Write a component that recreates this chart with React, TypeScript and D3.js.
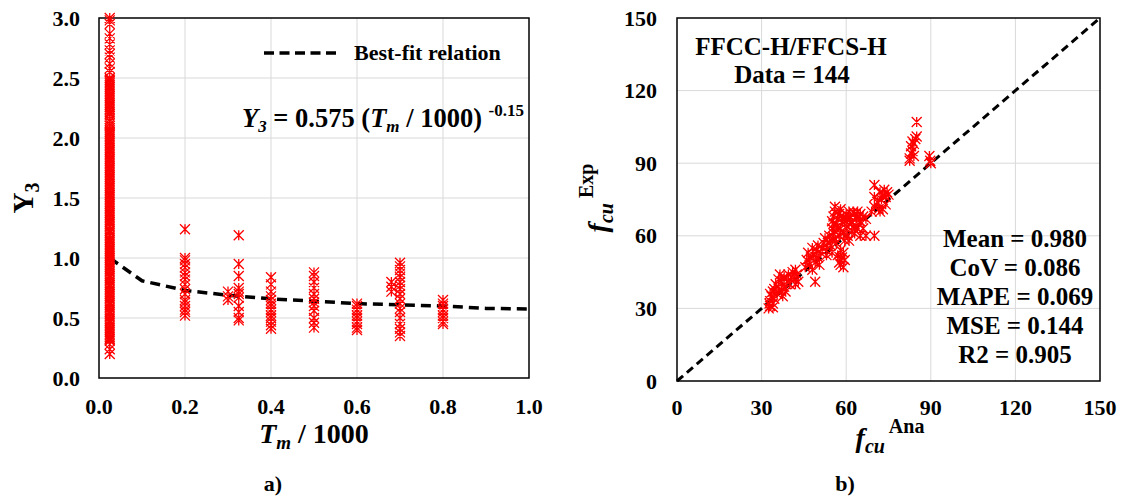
import React from 'react';
import * as d3 from 'd3';

// ---- panel a) Y3 vs Tm/1000 ----
const tmTicks = [0, 0.2, 0.4, 0.6, 0.8, 1.0];
const y3Ticks = [0, 0.5, 1.0, 1.5, 2.0, 2.5, 3.0];

// each group: Tm/1000 position and the Y3 values
const tmGroups = [0.025, 0.025, 0.2, 0.3, 0.325, 0.4, 0.5, 0.6, 0.68, 0.7, 0.8];
const y3Group0 = [3.0, 2.98, 2.95, 2.87, 2.83, 2.78, 2.73, 2.7, 2.67, 2.62, 2.58, 2.55, 2.5, 2.47, 2.44, 2.41,
  2.38, 2.35, 2.32, 2.29, 2.26, 2.23, 2.2, 2.16, 2.12, 2.08, 2.05, 2.02, 1.99, 1.96, 1.93, 1.9, 1.87, 1.84,
  1.81, 1.78, 1.75, 1.72, 1.69, 1.66, 1.63, 1.6, 1.57, 1.54, 1.51, 1.48, 1.45, 1.42, 1.39, 1.36, 1.33, 1.3,
  1.27, 1.24, 1.21, 1.18, 1.15, 1.12, 1.09, 1.06, 1.03, 1.0, 0.97, 0.94, 0.91, 0.88, 0.85, 0.82, 0.79, 0.76,
  0.73, 0.7, 0.67, 0.64, 0.61, 0.58, 0.55, 0.52, 0.49, 0.46, 0.43, 0.4, 0.37, 0.34, 0.31, 0.28, 0.24, 0.2];
const y3Group0b = [2.485, 2.455, 2.425, 2.395, 2.365, 2.335, 2.305, 2.275, 2.245, 2.215, 2.18, 2.14, 2.1,
  2.065, 2.035, 2.005, 1.975, 1.945, 1.915, 1.885, 1.855, 1.825, 1.795, 1.765, 1.735, 1.705, 1.675, 1.645,
  1.615, 1.585, 1.555, 1.525, 1.495, 1.465, 1.435, 1.405, 1.375, 1.345, 1.315, 1.285, 1.255, 1.225, 1.195,
  1.165, 1.135, 1.105, 1.075, 1.045, 1.015, 0.985, 0.955, 0.925, 0.895, 0.865, 0.835, 0.805, 0.775, 0.745,
  0.715, 0.685, 0.655, 0.625, 0.595, 0.565, 0.535, 0.505, 0.475, 0.445, 0.415, 0.385, 0.355, 0.325];
const y3Group1 = [1.24, 1.0, 0.98, 0.95, 0.92, 0.88, 0.85, 0.82, 0.78, 0.74, 0.7, 0.65, 0.63, 0.6, 0.57, 0.55, 0.52];
const y3Group2 = [0.72, 0.68, 0.65];
const y3Group3 = [1.19, 0.95, 0.85, 0.75, 0.72, 0.7, 0.67, 0.6, 0.55, 0.5, 0.48];
const y3Group4 = [0.84, 0.78, 0.72, 0.68, 0.65, 0.62, 0.6, 0.57, 0.55, 0.52, 0.5, 0.47, 0.44, 0.41];
const y3Group5 = [0.88, 0.85, 0.8, 0.75, 0.7, 0.66, 0.63, 0.6, 0.56, 0.5, 0.46, 0.42];
const y3Group6 = [0.62, 0.6, 0.57, 0.55, 0.52, 0.5, 0.47, 0.45, 0.42, 0.4];
const y3Group7 = [0.8, 0.76, 0.72];
const y3Group8 = [0.96, 0.93, 0.9, 0.87, 0.84, 0.8, 0.77, 0.74, 0.7, 0.66, 0.62, 0.58, 0.55, 0.5, 0.45, 0.41, 0.38, 0.35];
const y3Group9 = [0.65, 0.62, 0.6, 0.57, 0.55, 0.52, 0.5, 0.47, 0.45];
const y3Groups = [y3Group0, y3Group0b, y3Group1, y3Group2, y3Group3, y3Group4, y3Group5, y3Group6, y3Group7, y3Group8, y3Group9];

// best-fit relation Y3 = 0.575 (Tm/1000)^-0.15
const fitTm = [0.025, 0.1, 0.2, 0.3, 0.4, 0.5, 0.6, 0.7, 0.8, 0.9, 1.0];
const fitY3 = [1.0, 0.81, 0.73, 0.69, 0.66, 0.64, 0.62, 0.61, 0.6, 0.58, 0.575];

// ---- panel b) fcu Exp vs fcu Ana ----
const fcuTicks = [0, 30, 60, 90, 120, 150];
const fcuAna = [
  32.5, 33, 33, 33.5, 34, 34, 34.5, 33, 32.8, 34,
  34.5, 35, 35.5, 36, 36, 37, 37, 37.5, 38, 38, 38.5, 36.5,
  39, 39.5, 40, 40.5, 41, 41.5, 42, 42, 42.5, 43,
  45.5, 46, 46.5, 47, 47.5, 48, 48, 48.5, 49, 49, 49.5, 50, 50, 50.5, 51,
  51.5, 52, 52.5, 53, 53.5, 54, 54.5, 55, 55.5, 56, 56.5, 55, 53,
  57, 57.5, 58, 58.5, 59, 59, 59.5, 58,
  55, 55.5, 56, 57, 57.5, 58, 58.5, 59, 60, 60.5, 61, 62, 62.5, 63, 64, 64.5, 65, 66, 67, 70, 61, 59.5,
  55, 55.5, 56, 56, 56.5, 57, 57.5, 58, 59, 59.5, 60, 60.5, 61, 61.5, 62, 62.5, 63, 63.5, 64, 64.5, 65, 65, 66, 67,
  69, 70, 70, 70, 71, 71.5, 72, 72, 72.5, 73, 73, 73.5, 74, 74, 74.5, 75,
  82.5, 82.5, 83, 83, 83.5, 83.5, 84, 84, 84.5, 85, 85,
  89.5, 90, 89.8];
const fcuExp = [
  30, 31, 33, 35, 30.5, 32, 34, 36, 32, 37,
  38, 40, 36, 39, 42, 37, 41, 35, 39, 43, 37, 44,
  41, 44, 40, 43, 45, 42, 46, 40, 44, 41,
  47, 50, 53, 48, 51, 46, 55, 52, 49, 41, 54, 51, 56, 48, 53,
  55, 57, 59, 54, 57, 60, 56, 58, 61, 59, 57, 53, 52,
  52, 49, 48, 51, 53, 47, 50, 54,
  63, 65, 62, 64, 60, 63, 66, 61, 63, 60, 65, 62, 64, 61, 63, 65, 60, 63, 60, 60, 58, 58,
  66, 68, 70, 72, 65, 67, 69, 71, 68, 66, 69, 67, 70, 68, 66, 70, 69, 67, 70, 68, 66, 69, 68, 67,
  70, 72, 76, 81, 74, 71, 70, 78, 75, 71, 77, 79, 73, 76, 78, 77,
  92, 91, 94, 97, 95, 99, 93, 98, 100, 101, 107,
  93, 90, 91];
const refLine = [0, 150];

const FONT = "'Liberation Serif', 'Times New Roman', serif";
const RED = '#ff0000';
const GRID = '#d9d9d9';

function star(cx: number, cy: number) {
  const h = 5;
  return `M${cx - h},${cy - h}L${cx + h},${cy + h}M${cx - h},${cy + h}L${cx + h},${cy - h}M${cx},${cy - h}L${cx},${cy + h}`;
}

export default function App() {
  // panel a scales
  const xA = d3.scaleLinear().domain([0, 1]).range([99, 529]);
  const yA = d3.scaleLinear().domain([0, 3]).range([378, 18]);
  // panel b scales
  const xB = d3.scaleLinear().domain([0, 150]).range([677, 1100]);
  const yB = d3.scaleLinear().domain([0, 150]).range([381, 18]);

  const ptsA: [number, number][] = [];
  tmGroups.forEach((tm, i) => y3Groups[i].forEach((v) => ptsA.push([tm, v])));

  const fitPath = d3.line<number>().x((d) => xA(d)).y((_, i) => yA(fitY3[i]))(fitTm) || '';
  const refPath = d3.line<number>().x((d) => xB(d)).y((d) => yB(d))(refLine) || '';

  const starsA = ptsA.map(([x, y]) => star(xA(x), yA(y))).join('');
  const starsB = fcuAna.map((a, i) => star(xB(a), yB(fcuExp[i]))).join('');

  return (
    <svg width={1121} height={498} style={{ position: 'absolute', left: 0, top: 0, background: '#fff' }}
      fontFamily={FONT} fontWeight="bold">
      <rect x={0} y={0} width={1121} height={498} fill="#fff" />

      {/* ---------- panel a ---------- */}
      {tmTicks.slice(1, -1).map((t) => (
        <line key={'gxa' + t} x1={xA(t)} x2={xA(t)} y1={yA(0)} y2={yA(3)} stroke={GRID} strokeWidth={1} />
      ))}
      {y3Ticks.slice(1, -1).map((t) => (
        <line key={'gya' + t} x1={xA(0)} x2={xA(1)} y1={yA(t)} y2={yA(t)} stroke={GRID} strokeWidth={1} />
      ))}
      <rect x={xA(0)} y={yA(3)} width={xA(1) - xA(0)} height={yA(0) - yA(3)} fill="none" stroke="#000" strokeWidth={1.5} />
      <path d={fitPath} fill="none" stroke="#000" strokeWidth={3.5} strokeDasharray="10,6" />
      <path d={starsA} fill="none" stroke={RED} strokeWidth={1.3} />

      {tmTicks.map((t) => (
        <text key={'txa' + t} x={xA(t)} y={414} textAnchor="middle" fontSize={22}>{t.toFixed(1)}</text>
      ))}
      {y3Ticks.map((t) => (
        <text key={'tya' + t} x={80} y={yA(t) + 7.5} textAnchor="end" fontSize={22}>{t.toFixed(1)}</text>
      ))}

      <line x1={264} x2={336} y1={53} y2={53} stroke="#000" strokeWidth={3.5} strokeDasharray="10,5.5" />
      <text x={354} y={60} fontSize={22}>Best-fit relation</text>

      <text x={242} y={127} fontSize={26.5}>
        <tspan fontStyle="italic">Y</tspan>
        <tspan fontStyle="italic" fontSize={17} dy={5}>3</tspan>
        <tspan dy={-5}>{' = 0.575 ('}</tspan>
        <tspan fontStyle="italic">T</tspan>
        <tspan fontStyle="italic" fontSize={17} dy={5}>m</tspan>
        <tspan dy={-5}>{' / 1000) '}</tspan>
        <tspan fontSize={17} dy={-11}>-0.15</tspan>
      </text>

      <text x={314} y={443} textAnchor="middle" fontSize={28}>
        <tspan fontStyle="italic">T</tspan>
        <tspan fontStyle="italic" fontSize={19} dy={6}>m</tspan>
        <tspan dy={-6}>{' / 1000'}</tspan>
      </text>
      <text transform="translate(33,198) rotate(-90)" textAnchor="middle" fontSize={29}>
        <tspan>Y</tspan>
        <tspan fontSize={20} dy={6}>3</tspan>
      </text>
      <text x={273} y={491} textAnchor="middle" fontSize={22}>a)</text>

      {/* ---------- panel b ---------- */}
      {fcuTicks.slice(1, -1).map((t) => (
        <line key={'gxb' + t} x1={xB(t)} x2={xB(t)} y1={yB(0)} y2={yB(150)} stroke={GRID} strokeWidth={1} />
      ))}
      {fcuTicks.slice(1, -1).map((t) => (
        <line key={'gyb' + t} x1={xB(0)} x2={xB(150)} y1={yB(t)} y2={yB(t)} stroke={GRID} strokeWidth={1} />
      ))}
      <rect x={xB(0)} y={yB(150)} width={xB(150) - xB(0)} height={yB(0) - yB(150)} fill="none" stroke="#000" strokeWidth={1.5} />
      <path d={refPath} fill="none" stroke="#000" strokeWidth={3} strokeDasharray="8,5" />
      <path d={starsB} fill="none" stroke={RED} strokeWidth={1.3} />

      {fcuTicks.map((t) => (
        <text key={'txb' + t} x={xB(t)} y={415} textAnchor="middle" fontSize={22}>{t}</text>
      ))}
      {fcuTicks.map((t) => (
        <text key={'tyb' + t} x={657} y={yB(t) + 7.5} textAnchor="end" fontSize={22}>{t}</text>
      ))}

      <text x={791} y={55} textAnchor="middle" fontSize={25}>FFCC-H/FFCS-H</text>
      <text x={792} y={83} textAnchor="middle" fontSize={25}>Data = 144</text>

      {['Mean = 0.980', 'CoV = 0.086', 'MAPE = 0.069', 'MSE = 0.144', 'R2 = 0.905'].map((s, i) => (
        <text key={s} x={1015} y={247 + i * 29} textAnchor="middle" fontSize={25}>{s}</text>
      ))}

      <text x={890} y={447} textAnchor="middle" fontSize={28}>
        <tspan fontStyle="italic">f</tspan>
        <tspan fontStyle="italic" fontSize={20} dy={6}>cu</tspan>
        <tspan fontSize={20} dy={-20}>{' Ana'}</tspan>
      </text>
      <text transform="translate(607,198) rotate(-90)" textAnchor="middle" fontSize={28}>
        <tspan fontStyle="italic">f</tspan>
        <tspan fontStyle="italic" fontSize={20} dy={6}>cu</tspan>
        <tspan fontSize={20} dy={-20}>{' Exp'}</tspan>
      </text>
      <text x={845} y={491} textAnchor="middle" fontSize={22}>b)</text>
    </svg>
  );
}
